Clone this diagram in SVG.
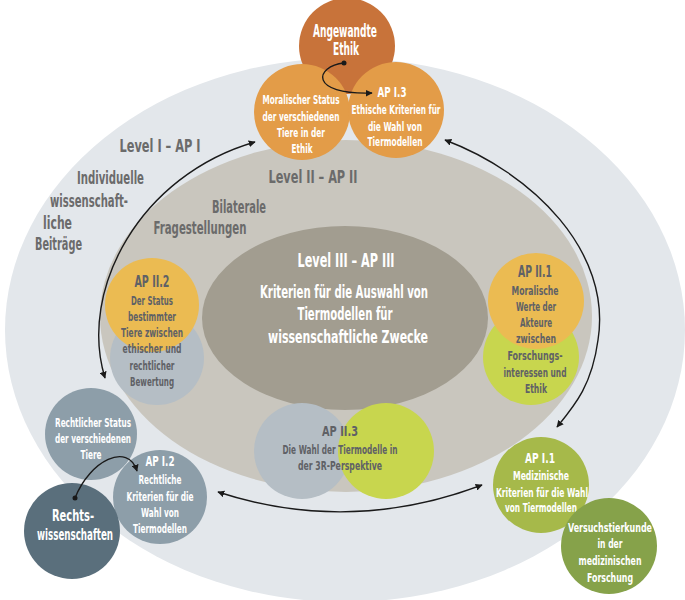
<svg xmlns="http://www.w3.org/2000/svg" width="685" height="600" viewBox="0 0 685 600">
<defs>
<style>
.t{font-family:"DejaVu Sans Condensed","Liberation Sans",sans-serif;font-weight:bold;text-anchor:middle}
.s{text-anchor:start}
.w{fill:#ffffff}
.d{fill:#5f6166}
.g{fill:#6b6b6b}
.c{stroke:#1a1a1a;stroke-width:1.4;fill:none}
</style>
<marker id="ah" viewBox="0 0 10 10" refX="9" refY="5" markerWidth="7" markerHeight="7" orient="auto-start-reverse" markerUnits="userSpaceOnUse">
<path d="M0,0 L10,5 L0,10 z" fill="#1a1a1a"/>
</marker>
</defs>
<rect width="685" height="600" fill="#ffffff"/>

<g id="level1">
<ellipse cx="345" cy="330" rx="340" ry="272" fill="#e3e7eb"/>
<text class="t g" x="160" y="152" font-size="18" textLength="81" lengthAdjust="spacingAndGlyphs">Level I – AP I</text>
<text class="t g s" x="77" y="184" font-size="17" textLength="67" lengthAdjust="spacingAndGlyphs">Individuelle</text>
<text class="t g s" x="50" y="207" font-size="17" textLength="78" lengthAdjust="spacingAndGlyphs">wissenschaft-</text>
<text class="t g s" x="43" y="229" font-size="17" textLength="29" lengthAdjust="spacingAndGlyphs">liche</text>
<text class="t g s" x="35" y="250" font-size="17" textLength="47" lengthAdjust="spacingAndGlyphs">Beiträge</text>
</g>

<g id="level2">
<ellipse cx="346" cy="316" rx="246" ry="176" fill="#c9c6be"/>
<text class="t g" x="313" y="183" font-size="18" textLength="89" lengthAdjust="spacingAndGlyphs">Level II – AP II</text>
<text class="t g" x="239" y="213" font-size="17" textLength="54" lengthAdjust="spacingAndGlyphs">Bilaterale</text>
<text class="t g" x="200" y="234" font-size="17" textLength="93" lengthAdjust="spacingAndGlyphs">Fragestellungen</text>
</g>

<g id="level3">
<ellipse cx="345" cy="318" rx="143" ry="92" fill="#a29d90"/>
<text class="t w" x="346" y="267" font-size="19" textLength="97" lengthAdjust="spacingAndGlyphs">Level III – AP III</text>
<text class="t w" x="344" y="298" font-size="17" textLength="168" lengthAdjust="spacingAndGlyphs">Kriterien für die Auswahl von</text>
<text class="t w" x="345" y="320" font-size="17" textLength="95" lengthAdjust="spacingAndGlyphs">Tiermodellen für</text>
<text class="t w" x="348" y="343" font-size="17" textLength="160" lengthAdjust="spacingAndGlyphs">wissenschaftliche Zwecke</text>
</g>

<g id="angewandte-ethik">
<circle cx="347" cy="46" r="48" fill="#c8733a"/>
<text class="t w" x="345" y="37" font-size="18" textLength="64" lengthAdjust="spacingAndGlyphs">Angewandte</text>
<text class="t w" x="346" y="55" font-size="18" textLength="26" lengthAdjust="spacingAndGlyphs">Ethik</text>
</g>

<g id="moralischer-status">
<circle cx="302" cy="112" r="48" fill="#e39c48"/>
<text class="t w" x="301" y="104" font-size="12.5" textLength="77" lengthAdjust="spacingAndGlyphs">Moralischer Status</text>
<text class="t w" x="301" y="121" font-size="12.5" textLength="77" lengthAdjust="spacingAndGlyphs">der verschiedenen</text>
<text class="t w" x="301" y="137" font-size="12.5" textLength="48" lengthAdjust="spacingAndGlyphs">Tiere in der</text>
<text class="t w" x="302" y="153" font-size="12.5" textLength="21" lengthAdjust="spacingAndGlyphs">Ethik</text>
</g>

<g id="ap-i-3">
<circle cx="396" cy="110" r="48" fill="#e39c48"/>
<text class="t w" x="392" y="97" font-size="13.5" textLength="29" lengthAdjust="spacingAndGlyphs">AP I.3</text>
<text class="t w" x="396" y="114" font-size="12.5" textLength="89" lengthAdjust="spacingAndGlyphs">Ethische Kriterien für</text>
<text class="t w" x="395" y="131" font-size="12.5" textLength="54" lengthAdjust="spacingAndGlyphs">die Wahl von</text>
<text class="t w" x="395" y="146" font-size="12.5" textLength="55" lengthAdjust="spacingAndGlyphs">Tiermodellen</text>
</g>

<g id="ap-ii-2">
<circle cx="157" cy="358" r="47" fill="#b5bec5"/>
<circle cx="152" cy="305" r="47" fill="#ebbb52"/>
<text class="t d" x="152" y="287" font-size="15" textLength="35" lengthAdjust="spacingAndGlyphs">AP II.2</text>
<text class="t d" x="152" y="305" font-size="12.5" textLength="42" lengthAdjust="spacingAndGlyphs">Der Status</text>
<text class="t d" x="152" y="321" font-size="12.5" textLength="48" lengthAdjust="spacingAndGlyphs">bestimmter</text>
<text class="t d" x="152" y="337" font-size="12.5" textLength="62" lengthAdjust="spacingAndGlyphs">Tiere zwischen</text>
<text class="t d" x="152" y="353" font-size="12.5" textLength="59" lengthAdjust="spacingAndGlyphs">ethischer und</text>
<text class="t d" x="152" y="370" font-size="12.5" textLength="45" lengthAdjust="spacingAndGlyphs">rechtlicher</text>
<text class="t d" x="152" y="386" font-size="12.5" textLength="44" lengthAdjust="spacingAndGlyphs">Bewertung</text>
</g>

<g id="ap-ii-1">
<circle cx="531" cy="357" r="48" fill="#c8d64e"/>
<circle cx="536" cy="301" r="48" fill="#ebbb52"/>
<text class="t d" x="535" y="277" font-size="15" textLength="34" lengthAdjust="spacingAndGlyphs">AP II.1</text>
<text class="t d" x="535" y="295" font-size="12.5" textLength="47" lengthAdjust="spacingAndGlyphs">Moralische</text>
<text class="t d" x="536" y="311" font-size="12.5" textLength="40" lengthAdjust="spacingAndGlyphs">Werte der</text>
<text class="t d" x="536" y="327" font-size="12.5" textLength="32" lengthAdjust="spacingAndGlyphs">Akteure</text>
<text class="t d" x="536" y="343" font-size="12.5" textLength="40" lengthAdjust="spacingAndGlyphs">zwischen</text>
<text class="t d" x="535" y="360" font-size="12.5" textLength="55" lengthAdjust="spacingAndGlyphs">Forschungs-</text>
<text class="t d" x="535" y="377" font-size="12.5" textLength="63" lengthAdjust="spacingAndGlyphs">interessen und</text>
<text class="t d" x="536" y="393" font-size="12.5" textLength="22" lengthAdjust="spacingAndGlyphs">Ethik</text>
</g>

<g id="ap-ii-3">
<circle cx="302" cy="451" r="48" fill="#b5bec5"/>
<circle cx="386" cy="451" r="48" fill="#c8d64e"/>
<text class="t d" x="340" y="436" font-size="14" textLength="36" lengthAdjust="spacingAndGlyphs">AP II.3</text>
<text class="t d" x="340" y="454" font-size="12" textLength="115" lengthAdjust="spacingAndGlyphs">Die Wahl der Tiermodelle in</text>
<text class="t d" x="340" y="470" font-size="12" textLength="84" lengthAdjust="spacingAndGlyphs">der 3R-Perspektive</text>
</g>

<g id="rechtlicher-status">
<circle cx="91" cy="434" r="46" fill="#8d9ea9"/>
<text class="t w" x="93" y="427" font-size="12" textLength="76" lengthAdjust="spacingAndGlyphs">Rechtlicher Status</text>
<text class="t w" x="93" y="443" font-size="12" textLength="76" lengthAdjust="spacingAndGlyphs">der verschiedenen</text>
<text class="t w" x="91" y="459" font-size="12" textLength="21" lengthAdjust="spacingAndGlyphs">Tiere</text>
</g>

<g id="ap-i-2">
<circle cx="160" cy="497" r="47" fill="#8d9ea9"/>
<text class="t w" x="160" y="466" font-size="14" textLength="29" lengthAdjust="spacingAndGlyphs">AP I.2</text>
<text class="t w" x="160" y="484" font-size="12.5" textLength="43" lengthAdjust="spacingAndGlyphs">Rechtliche</text>
<text class="t w" x="160" y="501" font-size="12.5" textLength="67" lengthAdjust="spacingAndGlyphs">Kriterien für die</text>
<text class="t w" x="160" y="517" font-size="12.5" textLength="38" lengthAdjust="spacingAndGlyphs">Wahl von</text>
<text class="t w" x="160" y="533" font-size="12.5" textLength="54" lengthAdjust="spacingAndGlyphs">Tiermodellen</text>
</g>

<g id="rechtswissenschaften">
<circle cx="72" cy="531" r="48" fill="#5a6f7c"/>
<text class="t w" x="73" y="521" font-size="15" textLength="42" lengthAdjust="spacingAndGlyphs">Rechts-</text>
<text class="t w" x="75" y="540" font-size="15" textLength="76" lengthAdjust="spacingAndGlyphs">wissenschaften</text>
</g>

<g id="ap-i-1">
<circle cx="541" cy="485" r="48" fill="#a6b94a"/>
<text class="t w" x="540" y="463" font-size="14" textLength="30" lengthAdjust="spacingAndGlyphs">AP I.1</text>
<text class="t w" x="541" y="480" font-size="12.5" textLength="56" lengthAdjust="spacingAndGlyphs">Medizinische</text>
<text class="t w" x="542" y="497" font-size="12.5" textLength="92" lengthAdjust="spacingAndGlyphs">Kriterien für die Wahl</text>
<text class="t w" x="541" y="512" font-size="12.5" textLength="72" lengthAdjust="spacingAndGlyphs">von Tiermodellen</text>
</g>

<g id="versuchstierkunde">
<circle cx="609" cy="546" r="48" fill="#86a24a"/>
<text class="t w" x="610" y="532" font-size="12.5" textLength="84" lengthAdjust="spacingAndGlyphs">Versuchstierkunde</text>
<text class="t w" x="610" y="548" font-size="12.5" textLength="25" lengthAdjust="spacingAndGlyphs">in der</text>
<text class="t w" x="610" y="565" font-size="12.5" textLength="63" lengthAdjust="spacingAndGlyphs">medizinischen</text>
<text class="t w" x="610" y="582" font-size="12.5" textLength="46" lengthAdjust="spacingAndGlyphs">Forschung</text>
</g>

<g id="connectors">
<path class="c" d="M105,378 C78,290 140,175 255,142" marker-start="url(#ah)" marker-end="url(#ah)"/>
<path class="c" d="M445,140 C533,173 612,252 598,340 C592,385 575,405 557,427" marker-start="url(#ah)" marker-end="url(#ah)"/>
<path class="c" d="M218,492 Q350,535 482,485" marker-start="url(#ah)" marker-end="url(#ah)"/>
<circle cx="344" cy="63" r="2.5" fill="#1a1a1a"/>
<path class="c" d="M344,63 C315,66 308,95 372,93" marker-end="url(#ah)"/>
<circle cx="75" cy="498" r="2.5" fill="#1a1a1a"/>
<path class="c" d="M75,498 C90,460 128,442 137,471" marker-end="url(#ah)"/>
</g>
</svg>
